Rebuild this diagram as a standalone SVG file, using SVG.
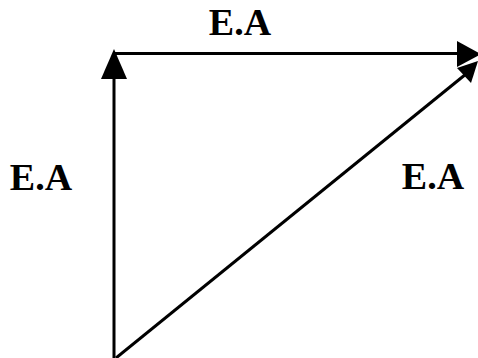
<svg xmlns="http://www.w3.org/2000/svg" width="478" height="358" viewBox="0 0 478 358">
<style>
.ln{stroke:#000;stroke-width:3;fill:none}
.hd{fill:#000;stroke:none}
.lb{font-family:"Liberation Serif","Times New Roman",serif;font-weight:bold;font-size:38px;fill:#000;text-anchor:middle}
</style>
<rect width="478" height="358" fill="#fff"/>
<g id="connectors">
<path class="ln" d="M114,358 V74"/>
<polygon class="hd" points="114,49 101,79 127,79"/>
<path class="ln" d="M113,53.5 H460"/>
<polygon class="hd" points="481,54 457,41 457,67"/>
<path class="ln" d="M116,358 L466,74"/>
<polygon class="hd" points="478,61 457,68 471,83"/>
</g>
<g id="label-top"><text class="lb" x="240" y="35">E.A</text></g>
<g id="label-left"><text class="lb" x="41" y="190">E.A</text></g>
<g id="label-right"><text class="lb" x="433" y="189">E.A</text></g>
</svg>
